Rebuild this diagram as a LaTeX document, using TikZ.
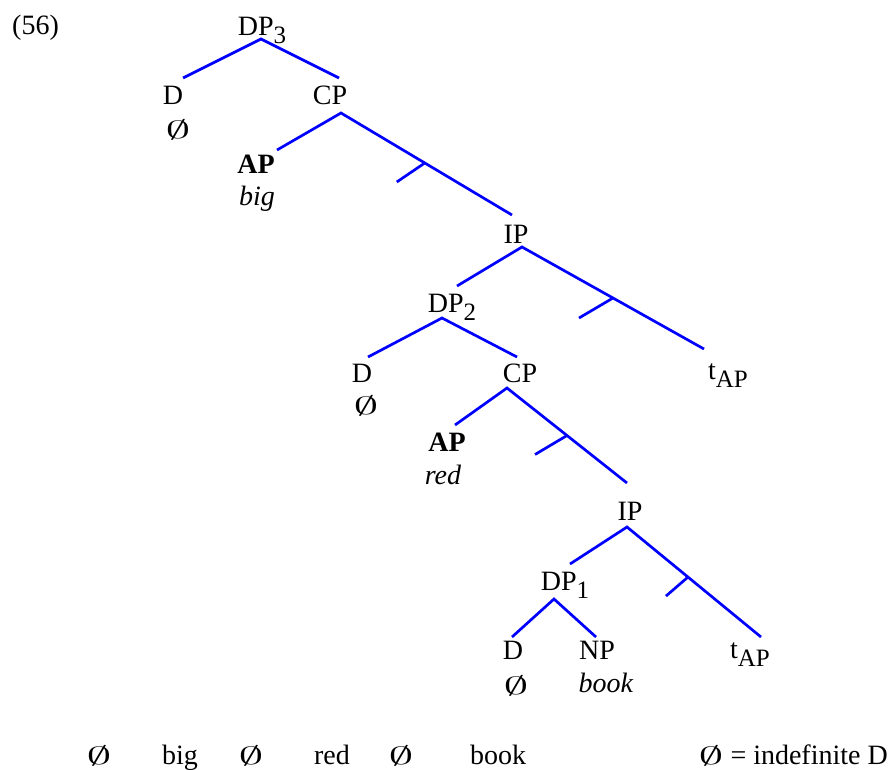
\documentclass[tikz,border=0pt]{standalone}
\usepackage{fontspec}
\setmainfont{Liberation Serif}
\usepackage{tikz}
\usetikzlibrary{positioning, calc}

\newcommand{\lo}[1]{\raisebox{-8pt}{\fontsize{25}{25}\selectfont #1}}
\newcommand{\nul}{{\fontsize{27}{27}\selectfont\scalebox{2}[1]{$\emptyset$}}}

\tikzset{
  lbl/.style={inner sep=0pt, anchor=base, font=\fontsize{28}{32}\selectfont},
  br/.style={blue, line width=2.7pt},
}

\begin{document}
\begin{tikzpicture}[x=1pt, y=-1pt]
			\useasboundingbox (0,0) rectangle (890,769);
			\node[lbl, anchor=base west] (ex) at (12,34) {(56)};
			% top DP
			\node[lbl] (DPc) at (262,35) {DP\lo{3}};
			\node[lbl] (Dc) at (173,104) {D};
			\node[lbl] (Nc) at (178,138) {\nul};
			\node[lbl] (CPc) at (330,104) {CP};
			\node[lbl] (APb) at (256,173) {\textbf{AP}};
			\node[lbl] (big) at (257,205) {\textit{big}};
			\node[lbl] (IPb) at (516,243) {IP};
			\node[lbl] (tb) at (728,379) {t\lo{AP}};
			% middle DP
			\node[lbl] (DPb) at (452,312) {DP\lo{2}};
			\node[lbl] (Db) at (362,382) {D};
			\node[lbl] (Nb) at (366,414) {\nul};
			\node[lbl] (CPb) at (520,382) {CP};
			\node[lbl] (APa) at (447,451) {\textbf{AP}};
			\node[lbl] (red) at (443,484) {\textit{red}};
			\node[lbl] (IPa) at (630,520) {IP};
			\node[lbl] (ta) at (750,658) {t\lo{AP}};
			% lowest DP
			\node[lbl] (DPa) at (565,590) {DP\lo{1}};
			\node[lbl] (Da) at (513,659) {D};
			\node[lbl] (Na) at (516,694) {\nul};
			\node[lbl] (NP) at (597,659) {NP};
			\node[lbl] (book) at (606,692) {\textit{book}};
			% linear order
			\node[lbl] (s1) at (99,764) {\nul};
			\node[lbl] (s2) at (180,764) {big};
			\node[lbl] (s3) at (251,764) {\nul};
			\node[lbl] (s4) at (332,764) {red};
			\node[lbl] (s5) at (401,764) {\nul};
			\node[lbl, anchor=base west] (s6) at (470,764) {book};
			\node[lbl, anchor=base east] (key) at (888,764) {\nul{} = indefinite D};

			\draw[br] ([shift={(10,-26)}]Dc.base) -- ([shift={(-1,4)}]DPc.base) -- ([shift={(9,-26)}]CPc.base);
			\draw[br] ([shift={(21,-23)}]APb.base) -- ([shift={(11,9)}]CPc.base)
				-- coordinate[pos=.49] (barc) ([shift={(-4,-28)}]IPb.base);
			\draw[br] (barc) -- ++(-28,19);
			\draw[br] ([shift={(5,-26)}]DPb.base) -- ([shift={(6,4)}]IPb.base)
				-- coordinate[pos=.5] (barb) ([shift={(-24,-30)}]tb.base);
			\draw[br] (barb) -- ++(-34,20);
			\draw[br] ([shift={(6,-25)}]Db.base) -- ([shift={(-10,6)}]DPb.base) -- ([shift={(-3,-25)}]CPb.base);
			\draw[br] ([shift={(8,-26)}]APa.base) -- ([shift={(-13,6)}]CPb.base)
				-- coordinate[pos=.5] (bara) ([shift={(-3,-37)}]IPa.base);
			\draw[br] (bara) -- ++(-32,19);
			\draw[br] ([shift={(5,-26)}]DPa.base) -- ([shift={(-3,7)}]IPa.base)
				-- coordinate[pos=.455] (bar) ([shift={(11,-21)}]ta.base);
			\draw[br] (bar) -- ++(-22,19);
			\draw[br] ([shift={(-1,-22)}]Da.base) -- ([shift={(-11,9)}]DPa.base) -- ([shift={(-1,-22)}]NP.base);
		\end{tikzpicture}
\end{document}
